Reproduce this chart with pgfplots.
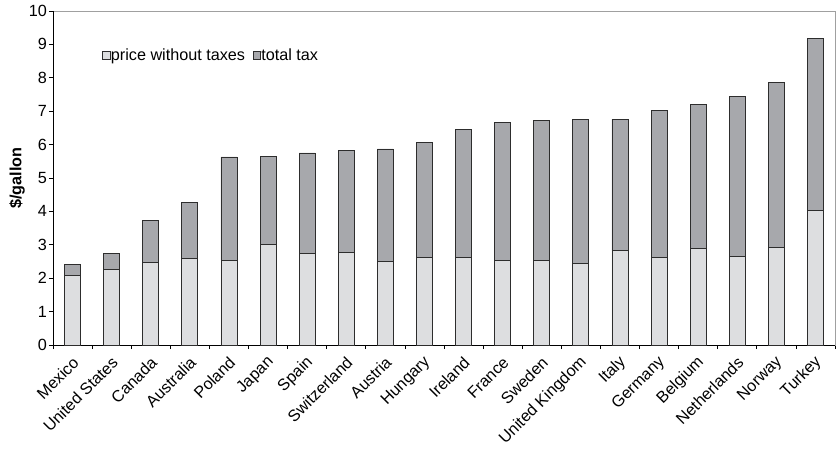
\documentclass[border=0pt]{standalone}
\usepackage{fontspec}
\setmainfont{Liberation Sans}
\usepackage{pgfplots}
\pgfplotsset{compat=1.18}
\usetikzlibrary{calc}
\definecolor{lightbar}{RGB}{221,222,224}
\definecolor{darkbar}{RGB}{167,168,172}
\definecolor{edge}{RGB}{45,45,45}
\definecolor{frame}{RGB}{160,160,160}
\pgfplotstableread{
x base tax
0 2.07 0.35
1 2.25 0.49
2 2.48 1.24
3 2.58 1.69
4 2.54 3.09
5 3.00 2.64
6 2.74 3.01
7 2.76 3.07
8 2.49 3.38
9 2.61 3.45
10 2.63 3.82
11 2.54 4.11
12 2.54 4.18
13 2.43 4.32
14 2.82 3.94
15 2.63 4.39
16 2.90 4.31
17 2.65 4.80
18 2.92 4.95
19 4.04 5.13
}\fuel
\begin{document}
\begin{tikzpicture}
\begin{axis}[name=ax, scale only axis, width=782pt, height=334pt,
  font=\fontsize{16.2}{19}\selectfont,
  /pgf/number format/assume math mode=true,
  ybar stacked, bar width=16pt,
  xmin=-0.5, xmax=19.5, ymin=0, ymax=10,
  ytick={0,1,...,10},
  xtick={-0.5,0.5,...,19.5}, xticklabels={},
  extra x ticks={0,1,...,19},
  extra x tick labels={Mexico,United States,Canada,Australia,Poland,Japan,Spain,Switzerland,Austria,Hungary,Ireland,France,Sweden,United Kingdom,Italy,Germany,Belgium,Netherlands,Norway,Turkey},
  extra x tick style={major tick length=0pt, xticklabel style={anchor=east, inner sep=1pt, xshift=4pt, yshift=-14pt, rotate=45}},
  tick align=outside, tick pos=left, major tick length=4pt,
  tick style={black, line width=0.8pt},
  axis line style={draw=frame, line width=0.8pt},
  ylabel={\bfseries \$/gallon},
  ylabel style={at={(rel axis cs:0,0.5)}, anchor=center, yshift=36pt},
  yticklabel style={inner sep=2pt},
  legend style={at={(rel axis cs:0.0627,0.867)}, anchor=west, draw=none, fill=none, legend columns=2, inner sep=0pt, font=\fontsize{16.2}{19}\selectfont, nodes={inner sep=0.5pt}, /tikz/every even column/.append style={column sep=7pt}},
  legend image code/.code={\draw[#1, line width=0.7pt] (0pt,-3.5pt) rectangle (7.5pt,4pt);},
  legend cell align=left,
]
\addplot[fill=lightbar, draw=edge, line width=0.8pt] table[x=x, y=base] {\fuel};
\addlegendentry{price without taxes}
\addplot[fill=darkbar, draw=edge, line width=0.8pt] table[x=x, y=tax] {\fuel};
\addlegendentry{total tax}
\draw[black, line width=0.8pt] (rel axis cs:0,1) -- (rel axis cs:0,0) -- (rel axis cs:1,0);
\end{axis}
\pgfresetboundingbox
\path[use as bounding box] ($(ax.south west)+(-53pt,-104pt)$) rectangle ($(ax.north east)+(1pt,11pt)$);
\end{tikzpicture}
\end{document}
